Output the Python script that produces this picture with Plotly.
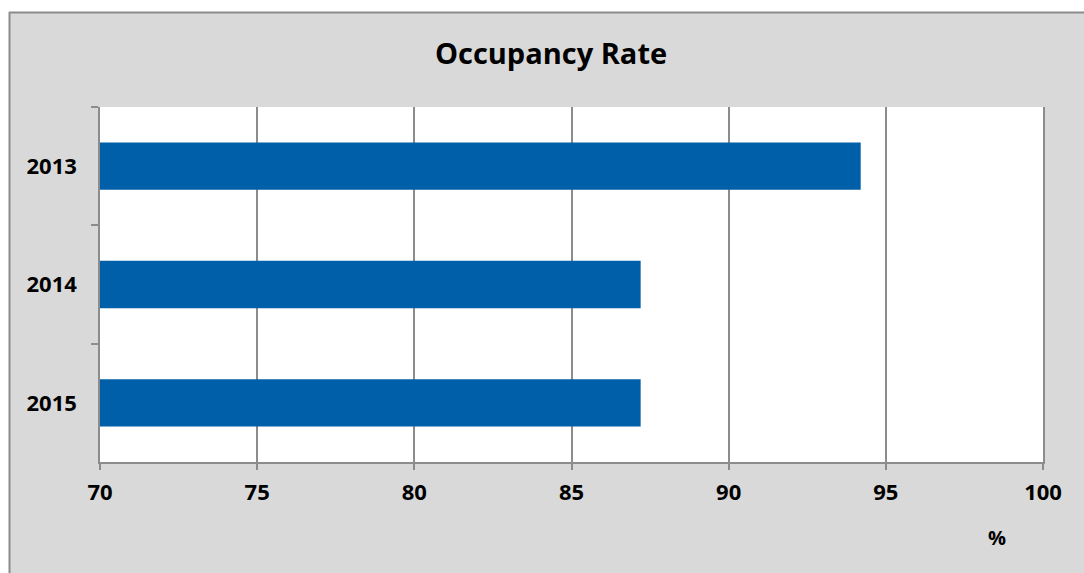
import plotly.graph_objects as go

# Occupancy rate per year (%)
years = ['2013', '2014', '2015']
occupancy = [94.2, 87.2, 87.2]
x_ticks = [70, 75, 80, 85, 90, 95, 100]

W, H = 1084, 573
ML, MR, MT, MB = 100, 41, 107, 111
pw, ph = W - ML - MR, H - MT - MB


def px_x(p):
    return (p - ML) / pw


def px_y(p):
    return (H - MB - p) / ph


grid = '#8c8c8c'
font_bold = dict(family='Open Sans', size=22, color='black', weight='bold')

fig = go.Figure()

fig.add_trace(go.Bar(
    y=years,
    x=occupancy,
    orientation='h',
    marker=dict(color='#005fa9', line=dict(width=0)),
    showlegend=False
))

fig.update_layout(
    width=W, height=H,
    margin=dict(l=ML, r=MR, t=MT, b=MB),
    paper_bgcolor='#d9d9d9',
    plot_bgcolor='white',
    bargap=0.6,
    title=dict(
        text='Occupancy Rate',
        font=dict(family='Open Sans', size=29, color='black', weight='bold'),
        x=px_x(551), xref='paper', xanchor='center',
        y=1 - 54 / H, yanchor='middle'
    ),
    xaxis=dict(
        range=[70, 100],
        tickvals=x_ticks,
        showgrid=True, gridcolor=grid, gridwidth=1.5,
        showline=True, linecolor=grid, linewidth=1.5,
        ticks='outside', ticklen=6, tickcolor=grid, tickwidth=1.5,
        tickfont=font_bold,
        ticklabelstandoff=4,
        zeroline=False
    ),
    yaxis=dict(
        categoryorder='array', categoryarray=years,
        autorange='reversed',
        showgrid=False,
        showline=True, linecolor=grid, linewidth=1.5, mirror=True,
        ticks='outside', ticklen=7, tickcolor=grid, tickwidth=1.5,
        tickson='boundaries',
        tickfont=font_bold,
        ticklabelstandoff=17
    ),
    annotations=[dict(
        text='%', x=px_x(997), y=px_y(537), xref='paper', yref='paper',
        showarrow=False, font=dict(family='Open Sans', size=20, color='black', weight='bold'),
        xanchor='center', yanchor='middle'
    )],
    shapes=[
        # white margin outside the chart frame
        dict(type='rect', xref='paper', yref='paper', layer='below',
             x0=px_x(-5), x1=px_x(W + 5), y0=px_y(12), y1=px_y(-5),
             fillcolor='white', line=dict(width=0)),
        dict(type='rect', xref='paper', yref='paper', layer='below',
             x0=px_x(-5), x1=px_x(9), y0=px_y(H + 5), y1=px_y(-5),
             fillcolor='white', line=dict(width=0)),
        # chart frame
        dict(type='line', xref='paper', yref='paper', layer='below',
             x0=px_x(9), x1=px_x(W + 5), y0=px_y(12.5), y1=px_y(12.5),
             line=dict(color='#8c8c8c', width=2)),
        dict(type='line', xref='paper', yref='paper', layer='below',
             x0=px_x(9.5), x1=px_x(9.5), y0=px_y(12), y1=px_y(H + 5),
             line=dict(color='#8c8c8c', width=2)),
    ]
)

# drop the default page margin so the figure sits at the window origin
fig.write_html(
    'out.html',
    config={'displayModeBar': False},
    post_script="document.body.style.margin='0';document.body.style.overflow='hidden';"
)
